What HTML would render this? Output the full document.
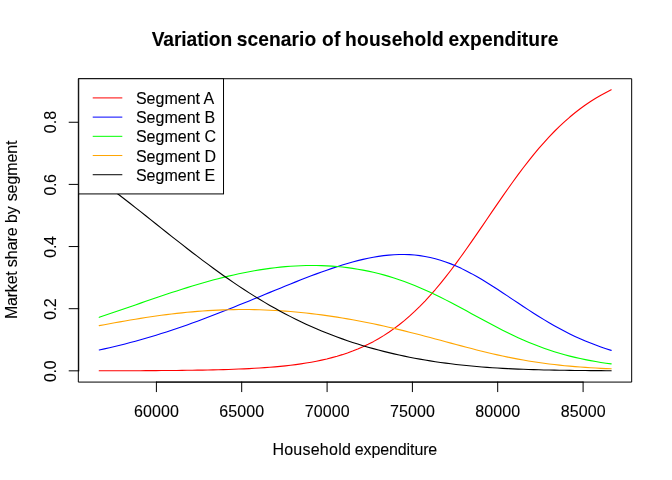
<!DOCTYPE html>
<html lang="en"><head><meta charset="utf-8"><title>Variation scenario of household expenditure</title>
<style>
html,body{margin:0;padding:0;background:#fff;}
svg{display:block;}
text{font-family:"Liberation Sans",Arial,Helvetica,sans-serif;font-size:16px;fill:#000;stroke:#000;stroke-width:0.1px;}
.t{font-weight:bold;font-size:19.2px;}
.l{fill:none;stroke-width:1;stroke-linecap:round;stroke-linejoin:round;}
.k{fill:none;stroke:#000;stroke-width:1;stroke-linecap:round;stroke-linejoin:round;}
</style></head><body>
<svg width="672" height="480" viewBox="0 0 672 480">
<rect width="672" height="480" fill="#fff"/>
<g class="l" style="stroke-width:1.1">
<polyline points="99.20,370.79 104.37,370.78 109.54,370.77 114.72,370.76 119.89,370.74 125.06,370.73 130.23,370.72 135.40,370.70 140.57,370.68 145.75,370.65 150.92,370.63 156.09,370.60 161.26,370.56 166.43,370.53 171.60,370.48 176.78,370.43 181.95,370.38 187.12,370.31 192.29,370.24 197.46,370.17 202.63,370.08 207.81,369.98 212.98,369.86 218.15,369.74 223.32,369.59 228.49,369.43 233.66,369.26 238.84,369.06 244.01,368.83 249.18,368.58 254.35,368.31 259.52,367.99 264.69,367.65 269.87,367.26 275.04,366.83 280.21,366.36 285.38,365.83 290.55,365.24 295.73,364.59 300.90,363.87 306.07,363.07 311.24,362.19 316.41,361.21 321.58,360.14 326.76,358.96 331.93,357.65 337.10,356.22 342.27,354.65 347.44,352.93 352.61,351.05 357.79,348.99 362.96,346.74 368.13,344.30 373.30,341.64 378.47,338.76 383.64,335.64 388.82,332.28 393.99,328.65 399.16,324.76 404.33,320.59 409.50,316.13 414.67,311.39 419.85,306.35 425.02,301.03 430.19,295.41 435.36,289.52 440.53,283.35 445.71,276.92 450.88,270.26 456.05,263.37 461.22,256.29 466.39,249.04 471.56,241.66 476.74,234.17 481.91,226.61 487.08,219.01 492.25,211.41 497.42,203.85 502.59,196.36 507.77,188.98 512.94,181.74 518.11,174.65 523.28,167.77 528.45,161.09 533.62,154.65 538.80,148.46 543.97,142.54 549.14,136.88 554.31,131.50 559.48,126.40 564.65,121.58 569.83,117.04 575.00,112.77 580.17,108.76 585.34,105.02 590.51,101.52 595.68,98.26 600.86,95.23 606.03,92.42 611.20,89.81" stroke="#FF0000"/>
<polyline points="99.20,349.97 104.37,348.84 109.54,347.68 114.72,346.47 119.89,345.21 125.06,343.91 130.23,342.57 135.40,341.18 140.57,339.74 145.75,338.26 150.92,336.74 156.09,335.17 161.26,333.56 166.43,331.91 171.60,330.21 176.78,328.48 181.95,326.71 187.12,324.90 192.29,323.05 197.46,321.17 202.63,319.25 207.81,317.31 212.98,315.33 218.15,313.33 223.32,311.31 228.49,309.26 233.66,307.19 238.84,305.11 244.01,303.00 249.18,300.89 254.35,298.77 259.52,296.64 264.69,294.51 269.87,292.38 275.04,290.25 280.21,288.14 285.38,286.03 290.55,283.94 295.73,281.87 300.90,279.82 306.07,277.81 311.24,275.82 316.41,273.89 321.58,271.99 326.76,270.15 331.93,268.37 337.10,266.66 342.27,265.02 347.44,263.47 352.61,262.00 357.79,260.64 362.96,259.38 368.13,258.25 373.30,257.24 378.47,256.37 383.64,255.65 388.82,255.09 393.99,254.70 399.16,254.49 404.33,254.47 409.50,254.65 414.67,255.03 419.85,255.63 425.02,256.44 430.19,257.48 435.36,258.74 440.53,260.23 445.71,261.95 450.88,263.88 456.05,266.03 461.22,268.37 466.39,270.92 471.56,273.64 476.74,276.52 481.91,279.55 487.08,282.70 492.25,285.96 497.42,289.30 502.59,292.70 507.77,296.14 512.94,299.60 518.11,303.05 523.28,306.48 528.45,309.88 533.62,313.21 538.80,316.47 543.97,319.64 549.14,322.72 554.31,325.69 559.48,328.55 564.65,331.29 569.83,333.91 575.00,336.39 580.17,338.76 585.34,341.00 590.51,343.11 595.68,345.10 600.86,346.97 606.03,348.72 611.20,350.36" stroke="#0000FF"/>
<polyline points="99.20,317.31 104.37,315.57 109.54,313.82 114.72,312.06 119.89,310.28 125.06,308.50 130.23,306.71 135.40,304.91 140.57,303.12 145.75,301.34 150.92,299.56 156.09,297.79 161.26,296.04 166.43,294.30 171.60,292.59 176.78,290.90 181.95,289.24 187.12,287.61 192.29,286.02 197.46,284.46 202.63,282.95 207.81,281.48 212.98,280.06 218.15,278.69 223.32,277.38 228.49,276.12 233.66,274.92 238.84,273.78 244.01,272.71 249.18,271.70 254.35,270.76 259.52,269.89 264.69,269.09 269.87,268.37 275.04,267.72 280.21,267.15 285.38,266.66 290.55,266.26 295.73,265.93 300.90,265.69 306.07,265.54 311.24,265.47 316.41,265.50 321.58,265.62 326.76,265.83 331.93,266.13 337.10,266.54 342.27,267.04 347.44,267.65 352.61,268.36 357.79,269.18 362.96,270.10 368.13,271.13 373.30,272.28 378.47,273.53 383.64,274.90 388.82,276.39 393.99,277.99 399.16,279.70 404.33,281.53 409.50,283.47 414.67,285.52 419.85,287.68 425.02,289.94 430.19,292.30 435.36,294.75 440.53,297.28 445.71,299.88 450.88,302.55 456.05,305.28 461.22,308.04 466.39,310.84 471.56,313.66 476.74,316.47 481.91,319.28 487.08,322.07 492.25,324.82 497.42,327.53 502.59,330.18 507.77,332.75 512.94,335.25 518.11,337.66 523.28,339.98 528.45,342.20 533.62,344.31 538.80,346.32 543.97,348.22 549.14,350.01 554.31,351.69 559.48,353.27 564.65,354.74 569.83,356.11 575.00,357.38 580.17,358.56 585.34,359.64 590.51,360.65 595.68,361.57 600.86,362.42 606.03,363.19 611.20,363.90" stroke="#00FF00"/>
<polyline points="99.20,325.64 104.37,324.67 109.54,323.72 114.72,322.78 119.89,321.86 125.06,320.96 130.23,320.08 135.40,319.22 140.57,318.38 145.75,317.57 150.92,316.80 156.09,316.05 161.26,315.33 166.43,314.65 171.60,314.01 176.78,313.41 181.95,312.84 187.12,312.32 192.29,311.83 197.46,311.40 202.63,311.00 207.81,310.65 212.98,310.35 218.15,310.10 223.32,309.89 228.49,309.73 233.66,309.62 238.84,309.56 244.01,309.54 249.18,309.57 254.35,309.65 259.52,309.78 264.69,309.96 269.87,310.18 275.04,310.45 280.21,310.77 285.38,311.13 290.55,311.54 295.73,311.99 300.90,312.49 306.07,313.03 311.24,313.62 316.41,314.24 321.58,314.91 326.76,315.62 331.93,316.37 337.10,317.16 342.27,317.99 347.44,318.86 352.61,319.77 357.79,320.72 362.96,321.71 368.13,322.73 373.30,323.80 378.47,324.89 383.64,326.02 388.82,327.19 393.99,328.39 399.16,329.62 404.33,330.88 409.50,332.17 414.67,333.48 419.85,334.81 425.02,336.17 430.19,337.54 435.36,338.92 440.53,340.31 445.71,341.71 450.88,343.10 456.05,344.50 461.22,345.88 466.39,347.25 471.56,348.59 476.74,349.92 481.91,351.21 487.08,352.47 492.25,353.69 497.42,354.87 502.59,356.01 507.77,357.10 512.94,358.14 518.11,359.12 523.28,360.06 528.45,360.94 533.62,361.77 538.80,362.55 543.97,363.27 549.14,363.94 554.31,364.57 559.48,365.15 564.65,365.68 569.83,366.17 575.00,366.62 580.17,367.03 585.34,367.40 590.51,367.74 595.68,368.05 600.86,368.34 606.03,368.59 611.20,368.82" stroke="#FFA500"/>
<polyline points="99.20,179.90 104.37,183.73 109.54,187.61 114.72,191.53 119.89,195.50 125.06,199.50 130.23,203.53 135.40,207.59 140.57,211.68 145.75,215.77 150.92,219.88 156.09,223.99 161.26,228.11 166.43,232.21 171.60,236.31 176.78,240.38 181.95,244.44 187.12,248.46 192.29,252.46 197.46,256.41 202.63,260.32 207.81,264.18 212.98,267.99 218.15,271.74 223.32,275.43 228.49,279.06 233.66,282.61 238.84,286.10 244.01,289.52 249.18,292.85 254.35,296.11 259.52,299.29 264.69,302.39 269.87,305.40 275.04,308.33 280.21,311.18 285.38,313.94 290.55,316.62 295.73,319.22 300.90,321.73 306.07,324.15 311.24,326.50 316.41,328.76 321.58,330.94 326.76,333.04 331.93,335.07 337.10,337.02 342.27,338.89 347.44,340.69 352.61,342.42 357.79,344.08 362.96,345.67 368.13,347.19 373.30,348.65 378.47,350.04 383.64,351.38 388.82,352.65 393.99,353.87 399.16,355.03 404.33,356.13 409.50,357.18 414.67,358.18 419.85,359.13 425.02,360.02 430.19,360.87 435.36,361.67 440.53,362.43 445.71,363.14 450.88,363.81 456.05,364.43 461.22,365.01 466.39,365.55 471.56,366.06 476.74,366.52 481.91,366.96 487.08,367.35 492.25,367.72 497.42,368.05 502.59,368.35 507.77,368.63 512.94,368.88 518.11,369.10 523.28,369.31 528.45,369.49 533.62,369.65 538.80,369.80 543.97,369.93 549.14,370.04 554.31,370.14 559.48,370.23 564.65,370.31 569.83,370.38 575.00,370.44 580.17,370.50 585.34,370.54 590.51,370.58 595.68,370.62 600.86,370.65 606.03,370.68 611.20,370.70" stroke="#000000"/>
</g>
<g class="k">
<path d="M156.4,382.08H583.1"/>
<path d="M156.4,382.08v9.6"/>
<path d="M241.7,382.08v9.6"/>
<path d="M327.1,382.08v9.6"/>
<path d="M412.4,382.08v9.6"/>
<path d="M497.7,382.08v9.6"/>
<path d="M583.1,382.08v9.6"/>
<path d="M78.72,370.84V122.25"/>
<path d="M78.72,370.84h-9.6"/>
<path d="M78.72,308.7h-9.6"/>
<path d="M78.72,246.55h-9.6"/>
<path d="M78.72,184.4h-9.6"/>
<path d="M78.72,122.25h-9.6"/>
<rect x="78.72" y="78.72" width="552.96" height="303.36"/>
</g>
<text x="134.00" y="416.9" style="letter-spacing:0.1px">60000</text>
<text x="219.30" y="416.9" style="letter-spacing:0.1px">65000</text>
<text x="304.70" y="416.9" style="letter-spacing:0.1px">70000</text>
<text x="390.00" y="416.9" style="letter-spacing:0.1px">75000</text>
<text x="475.30" y="416.9" style="letter-spacing:0.1px">80000</text>
<text x="560.70" y="416.9" style="letter-spacing:0.1px">85000</text>
<text transform="translate(56.4,381.96) rotate(-90)" style="letter-spacing:-0.35px">0.0</text>
<text transform="translate(56.4,319.82) rotate(-90)" style="letter-spacing:-0.35px">0.2</text>
<text transform="translate(56.4,257.67) rotate(-90)" style="letter-spacing:-0.35px">0.4</text>
<text transform="translate(56.4,195.52) rotate(-90)" style="letter-spacing:-0.35px">0.6</text>
<text transform="translate(56.4,133.15) rotate(-90)" style="letter-spacing:0.0px">0.8</text>
<text class="t" transform="translate(0,45.6) scale(1,1.04)" xml:space="preserve"><tspan x="151.69" style="letter-spacing:-0.075px">Variation </tspan><tspan x="236.71" style="letter-spacing:0.089px">scenario </tspan><tspan x="322" style="letter-spacing:0.16px">of </tspan><tspan x="345.11" style="letter-spacing:0.188px">household </tspan><tspan x="448.58" style="letter-spacing:0.105px">expenditure</tspan></text>
<text y="455" xml:space="preserve"><tspan x="272.38" style="letter-spacing:0.245px">Household </tspan><tspan x="354.83" style="letter-spacing:-0.118px">expenditure</tspan></text>
<text transform="translate(17.2,0) rotate(-90)" xml:space="preserve"><tspan x="-319.07" style="letter-spacing:-0.214px">Market </tspan><tspan x="-267.15" style="letter-spacing:-0.063px">share </tspan><tspan x="-223" style="letter-spacing:-0.04px">by </tspan><tspan x="-201.34" style="letter-spacing:-0.093px">segment</tspan></text>
<rect x="78.72" y="78.72" width="144.8" height="115.2" fill="#fff" stroke="#000" stroke-width="1"/>
<g class="l">
<path d="M93.12,97.92h28.8" stroke="#FF0000"/>
<path d="M93.12,117.12h28.8" stroke="#0000FF"/>
<path d="M93.12,136.32h28.8" stroke="#00FF00"/>
<path d="M93.12,155.52h28.8" stroke="#FFA500"/>
<path d="M93.12,174.72h28.8" stroke="#000000"/>
</g>
<text x="135.95" y="104.02">Segment A</text>
<text x="135.95" y="123.22">Segment B</text>
<text x="135.95" y="142.42">Segment C</text>
<text x="135.95" y="161.62">Segment D</text>
<text x="135.95" y="180.82">Segment E</text>
</svg>
</body></html>
